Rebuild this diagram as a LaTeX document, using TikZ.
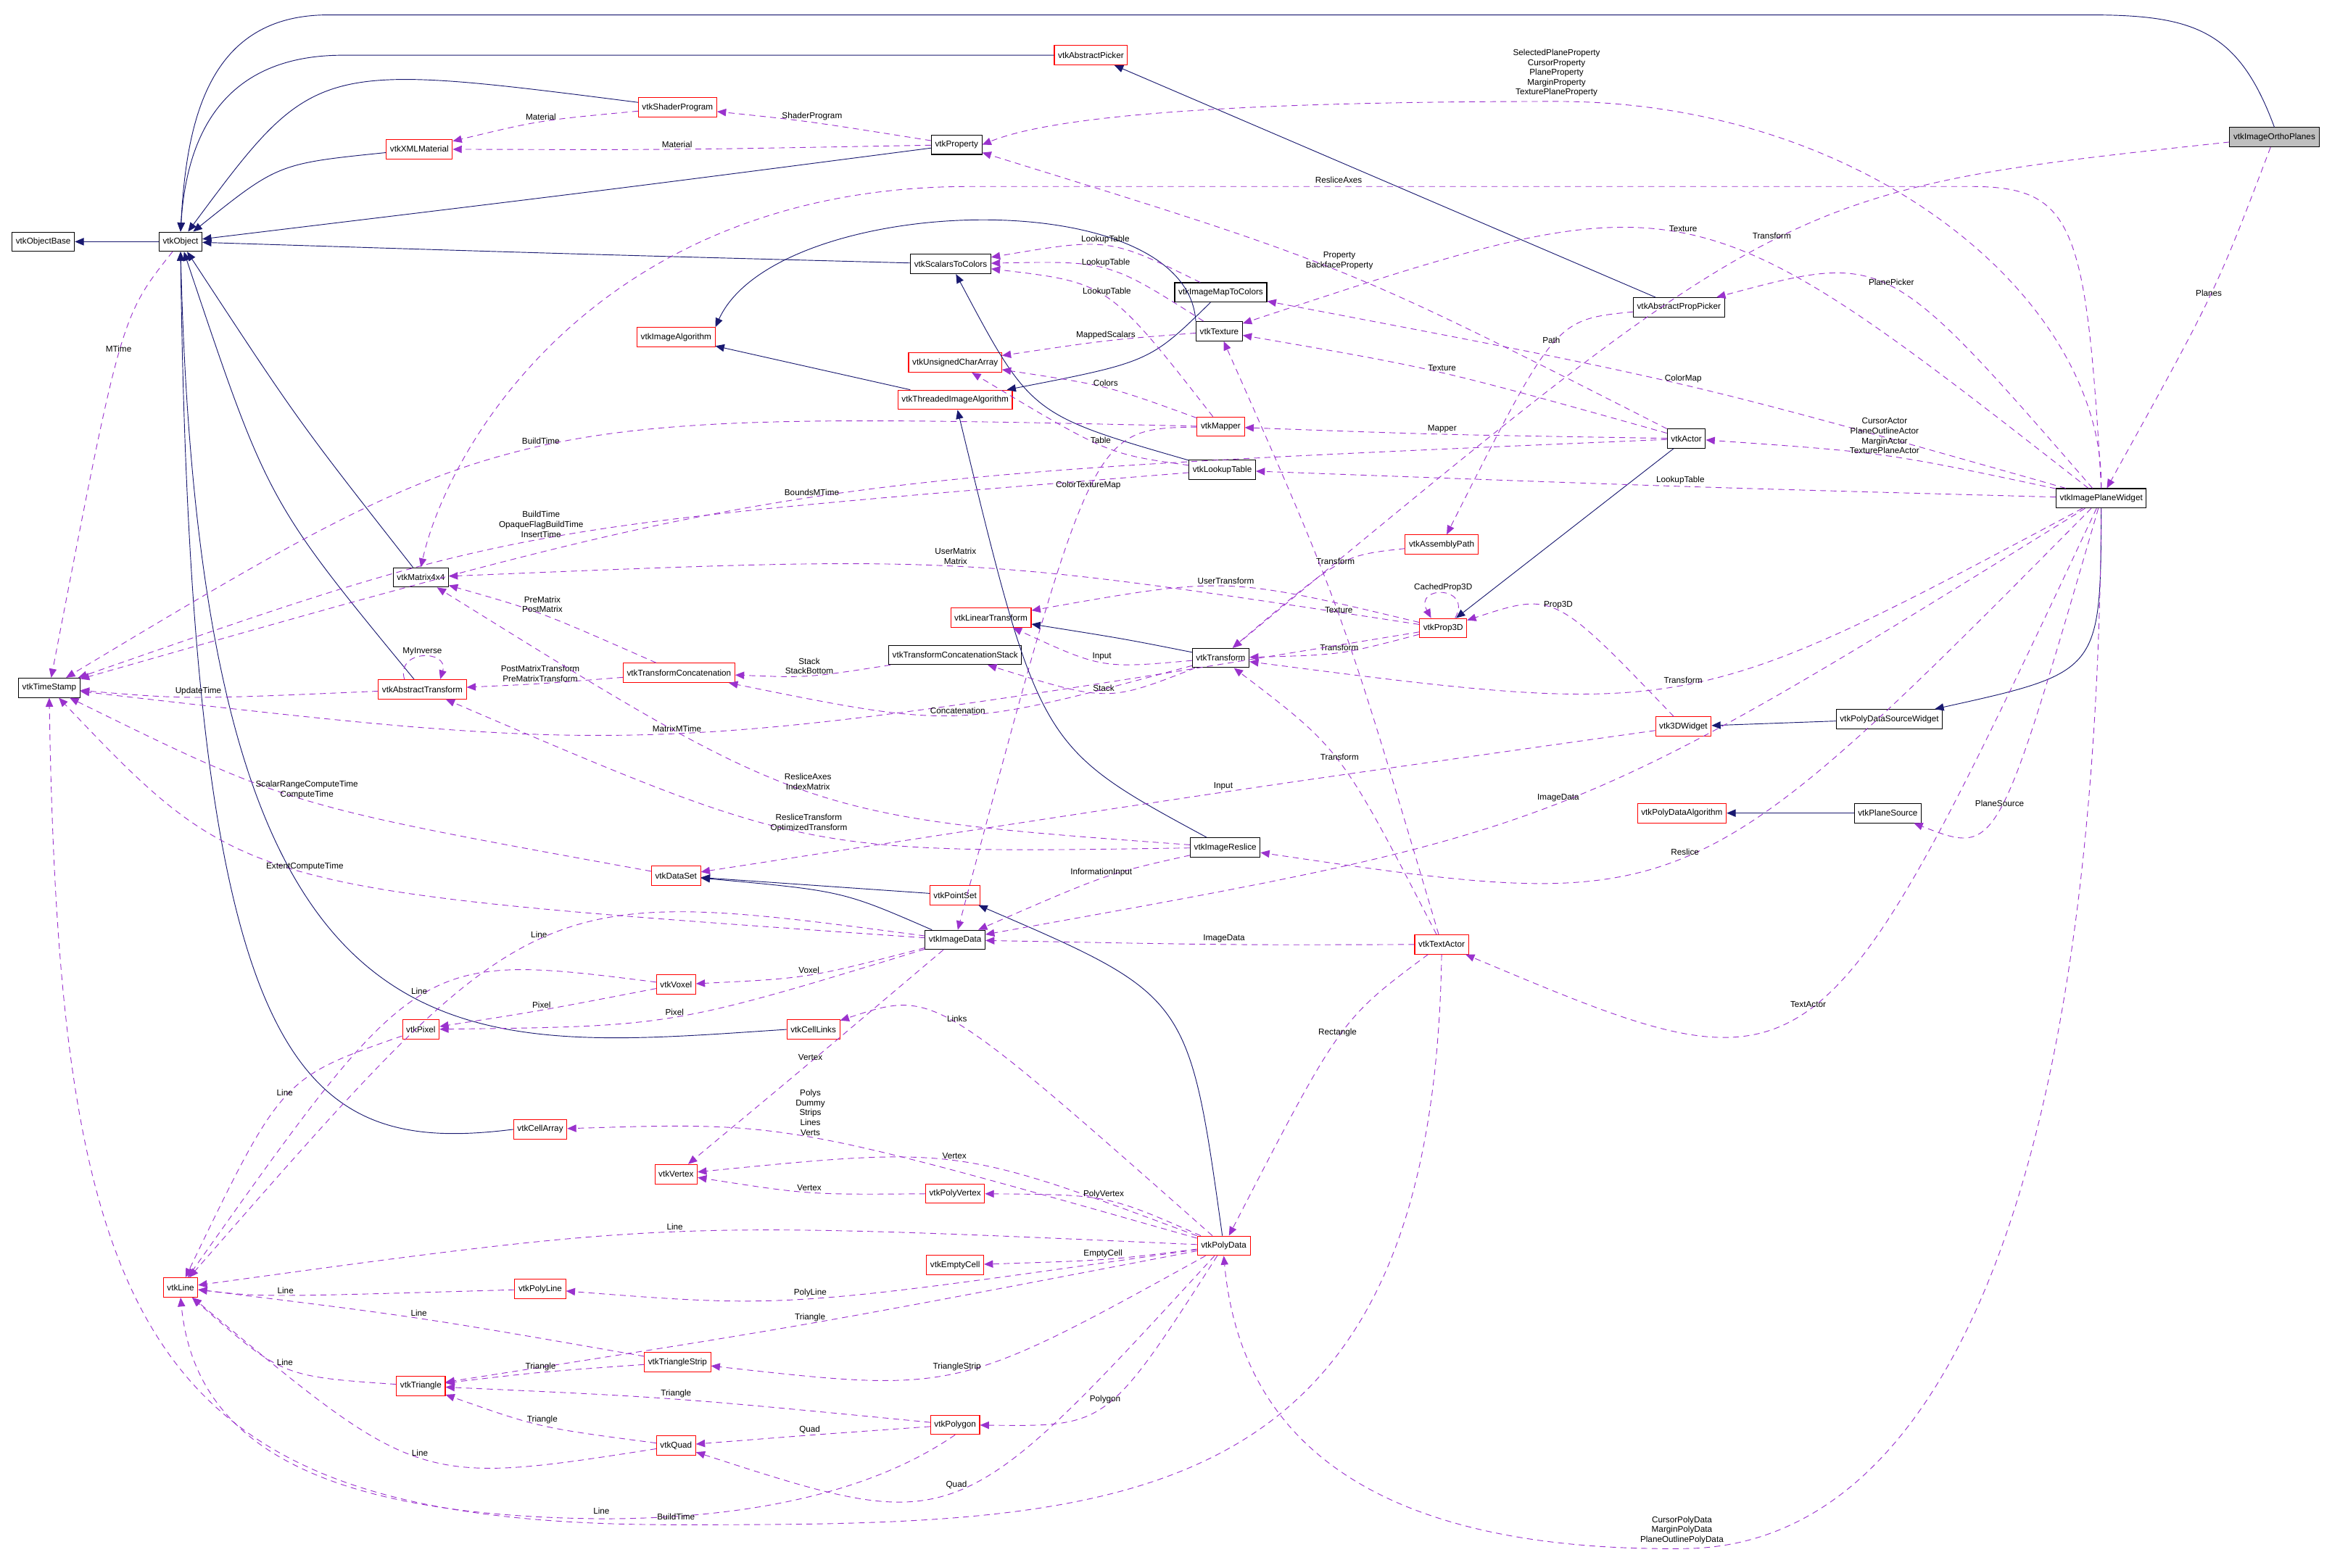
\documentclass[tikz,border=0pt]{standalone}
\usepackage{fontspec}
\setmainfont{Liberation Sans}
\usetikzlibrary{arrows.meta,calc}
\definecolor{inhcol}{HTML}{191970}
\definecolor{usecol}{HTML}{9A32CD}
\tikzset{
  cls/.style={draw=black, line width=0.5pt, inner xsep=2.5pt, minimum height=13pt,
    font=\fontsize{5.7}{6.6}\selectfont},
  rcls/.style={cls, draw=red},
  lbl/.style={font=\fontsize{5.7}{6.6}\selectfont, align=center, inner sep=1pt},
  inh/.style={draw=inhcol, line width=0.45pt, -{Triangle[length=6pt,width=5pt]}},
  use/.style={draw=usecol, line width=0.45pt, dash pattern=on 4pt off 3pt,
    -{Triangle[length=6pt,width=5pt]}},
}
% connectors that pass through a given middle point
\newcommand\mem[4]{\draw[use] (#1) .. controls ($1.3333*(#3)-0.16667*(#1)-0.16667*(#2)$) .. (#2)
  node[lbl, pos=0.5, above] {#4};}
\newcommand\isa[3]{\draw[inh] (#1) .. controls ($1.3333*(#3)-0.16667*(#1)-0.16667*(#2)$) .. (#2);}
\begin{document}
\begin{tikzpicture}[x=1pt, y=-1pt]
    \useasboundingbox (0,0) rectangle (1568,1051);

    % classes
    \node[cls, fill=black!25] (vtkImageOrthoPlanes) at (1524,92) {vtkImageOrthoPlanes};
    \node[cls] (vtkObjectBase) at (29,162) {vtkObjectBase};
    \node[cls] (vtkObject) at (121,162) {vtkObject};
    \node[rcls] (vtkAbstractPicker) at (731,37) {vtkAbstractPicker};
    \node[rcls] (vtkShaderProgram) at (454,72) {vtkShaderProgram};
    \node[rcls] (vtkXMLMaterial) at (281,100) {vtkXMLMaterial};
    \node[cls] (vtkProperty) at (641,97) {vtkProperty};
    \node[cls] (vtkScalarsToColors) at (637,177) {vtkScalarsToColors};
    \node[cls] (vtkImageMapToColors) at (818,196) {vtkImageMapToColors};
    \node[cls] (vtkTexture) at (817,222) {vtkTexture};
    \node[rcls] (vtkImageAlgorithm) at (453,226) {vtkImageAlgorithm};
    \node[rcls] (vtkUnsignedCharArray) at (640,243) {vtkUnsignedCharArray};
    \node[rcls] (vtkThreadedImageAlgorithm) at (640,268) {vtkThreadedImageAlgorithm};
    \node[rcls] (vtkMapper) at (818,286) {vtkMapper};
    \node[cls] (vtkLookupTable) at (819,315) {vtkLookupTable};
    \node[cls] (vtkAbstractPropPicker) at (1125,206) {vtkAbstractPropPicker};
    \node[cls] (vtkActor) at (1130,294) {vtkActor};
    \node[cls] (vtkImagePlaneWidget) at (1408,334) {vtkImagePlaneWidget};
    \node[rcls] (vtkAssemblyPath) at (966,365) {vtkAssemblyPath};
    \node[cls] (vtkMatrix4x4) at (282,387) {vtkMatrix4x4};
    \node[rcls] (vtkLinearTransform) at (664,414) {vtkLinearTransform};
    \node[rcls] (vtkProp3D) at (967,421) {vtkProp3D};
    \node[cls] (vtkTimeStamp) at (33,461) {vtkTimeStamp};
    \node[rcls] (vtkAbstractTransform) at (283,462) {vtkAbstractTransform};
    \node[rcls] (vtkTransformConcatenation) at (455,451) {vtkTransformConcatenation};
    \node[cls] (vtkTransformConcatenationStack) at (640,439) {vtkTransformConcatenationStack};
    \node[cls] (vtkTransform) at (818,441) {vtkTransform};
    \node[rcls] (vtk3DWidget) at (1128,487) {vtk3DWidget};
    \node[cls] (vtkPolyDataSourceWidget) at (1266,482) {vtkPolyDataSourceWidget};
    \node[rcls] (vtkPolyDataAlgorithm) at (1127,545) {vtkPolyDataAlgorithm};
    \node[cls] (vtkPlaneSource) at (1265,545) {vtkPlaneSource};
    \node[cls] (vtkImageReslice) at (821,568) {vtkImageReslice};
    \node[rcls] (vtkDataSet) at (453,587) {vtkDataSet};
    \node[rcls] (vtkPointSet) at (640,600) {vtkPointSet};
    \node[cls] (vtkImageData) at (640,630) {vtkImageData};
    \node[rcls] (vtkTextActor) at (966,633) {vtkTextActor};
    \node[rcls] (vtkVoxel) at (453,660) {vtkVoxel};
    \node[rcls] (vtkPixel) at (282,690) {vtkPixel};
    \node[rcls] (vtkCellLinks) at (545,690) {vtkCellLinks};
    \node[rcls] (vtkCellArray) at (362,757) {vtkCellArray};
    \node[rcls] (vtkVertex) at (453,787) {vtkVertex};
    \node[rcls] (vtkPolyVertex) at (640,800) {vtkPolyVertex};
    \node[rcls] (vtkPolyData) at (820,835) {vtkPolyData};
    \node[rcls] (vtkEmptyCell) at (640,848) {vtkEmptyCell};
    \node[rcls] (vtkLine) at (121,863) {vtkLine};
    \node[rcls] (vtkPolyLine) at (362,864) {vtkPolyLine};
    \node[rcls] (vtkTriangleStrip) at (454,913) {vtkTriangleStrip};
    \node[rcls] (vtkTriangle) at (282,929) {vtkTriangle};
    \node[rcls] (vtkPolygon) at (640,955) {vtkPolygon};
    \node[rcls] (vtkQuad) at (453,969) {vtkQuad};

    % inheritance
    \draw[inh] (vtkObject) -- (vtkObjectBase);
    \draw[inh] (vtkImageOrthoPlanes.north) .. controls (1500,20) and (1470,10) .. (1400,10)
        -- (220,10) .. controls (140,10) and (125,80) .. (vtkObject.north);
    \draw[inh] (vtkAbstractPicker.west) -- (230,37) .. controls (150,37) and (125,90) .. (vtkObject.north);
    \isa{vtkShaderProgram}{vtkObject}{230,60}
    \isa{vtkXMLMaterial}{vtkObject}{190,115}
    \isa{vtkProperty}{vtkObject}{400,128}
    \isa{vtkScalarsToColors}{vtkObject}{380,170}
    \isa{vtkMatrix4x4}{vtkObject}{200,280}
    \isa{vtkAbstractTransform}{vtkObject}{185,330}
    \draw[inh] (vtkCellLinks.west) .. controls (300,705) and (135,730) .. (vtkObject.south);
    \draw[inh] (vtkCellArray.west) .. controls (200,775) and (128,720) .. (vtkObject.south);
    \draw[inh] (vtkAbstractPropPicker) -- (vtkAbstractPicker);
    \isa{vtkImageMapToColors}{vtkThreadedImageAlgorithm}{760,240}
    \draw[inh] (vtkThreadedImageAlgorithm) -- (vtkImageAlgorithm);
    \draw[inh] (vtkTexture.north west) .. controls (795,120) and (520,130) .. (vtkImageAlgorithm.north east);
    \isa{vtkLookupTable}{vtkScalarsToColors}{700,270}
    \isa{vtkImageReslice}{vtkThreadedImageAlgorithm}{705,480}
    \draw[inh] (vtkActor) -- (vtkProp3D);
    \isa{vtkImagePlaneWidget}{vtkPolyDataSourceWidget}{1390,440}
    \draw[inh] (vtkPolyDataSourceWidget) -- (vtk3DWidget);
    \draw[inh] (vtkPlaneSource) -- (vtkPolyDataAlgorithm);
    \draw[inh] (vtkPointSet) -- (vtkDataSet);
    \isa{vtkImageData}{vtkDataSet}{560,600}
    \isa{vtkPolyData}{vtkPointSet}{780,680}
    \isa{vtkTransform}{vtkLinearTransform}{750,428}

    % members
    \mem{vtkShaderProgram}{vtkXMLMaterial}{363,82}{Material}
    \mem{vtkProperty}{vtkXMLMaterial}{453,100}{Material}
    \mem{vtkProperty}{vtkShaderProgram}{543,82}{ShaderProgram}
    \draw[use] (vtkImagePlaneWidget.north) .. controls (1410,200) and (1250,68) .. (1043,68)
        .. controls (800,68) and (700,80) .. (vtkProperty.east);
    \node[lbl, anchor=south] at (1043,66) {SelectedPlaneProperty\\CursorProperty\\PlaneProperty\\MarginProperty\\TexturePlaneProperty};
    \mem{vtkActor}{vtkProperty}{897,182}{Property\\BackfaceProperty}
    \draw[use] (vtkImagePlaneWidget.north) .. controls (1398,150) and (1390,125) .. (1320,125)
        -- (650,125) .. controls (400,125) and (300,300) .. (vtkMatrix4x4.north);
    \node[lbl, anchor=south] at (897,124) {ResliceAxes};
    \mem{vtkImagePlaneWidget}{vtkTexture}{1127,158}{Texture}
    \mem{vtkImageOrthoPlanes}{vtkTransform}{1190,162}{Transform}
    \mem{vtkImagePlaneWidget}{vtkAbstractPropPicker}{1265,194}{PlanePicker}
    \mem{vtkImagePlaneWidget}{vtkImageMapToColors}{1127,258}{ColorMap}
    \mem{vtkImagePlaneWidget}{vtkActor}{1265,306}{CursorActor\\PlaneOutlineActor\\MarginActor\\TexturePlaneActor}
    \mem{vtkImagePlaneWidget}{vtkLookupTable}{1127,326}{LookupTable}
    \mem{vtkImagePlaneWidget}{vtkTransform}{1127,458}{Transform}
    \mem{vtkImagePlaneWidget}{vtkImageData}{1043,538}{ImageData}
    \mem{vtkImagePlaneWidget}{vtkPlaneSource}{1338,540}{PlaneSource}
    \mem{vtkImagePlaneWidget}{vtkImageReslice}{1127,573}{Reslice}
    \mem{vtkImagePlaneWidget}{vtkTextActor}{1210,675}{TextActor}
    \draw[use] (vtkImagePlaneWidget.south) .. controls (1405,800) and (1300,1038) .. (1127,1038)
        .. controls (900,1040) and (830,950) .. (vtkPolyData.south);
    \node[lbl, anchor=south] at (1127,1036) {CursorPolyData\\MarginPolyData\\PlaneOutlinePolyData};
    \mem{vtkImageOrthoPlanes}{vtkImagePlaneWidget}{1480,200}{Planes}
    \mem{vtkImageMapToColors}{vtkScalarsToColors}{739,166}{LookupTable}
    \mem{vtkTexture}{vtkScalarsToColors}{739,181}{LookupTable}
    \mem{vtkMapper}{vtkScalarsToColors}{739,200}{LookupTable}
    \mem{vtkTexture}{vtkUnsignedCharArray}{739,229}{MappedScalars}
    \mem{vtkMapper}{vtkUnsignedCharArray}{739,260}{Colors}
    \mem{vtkLookupTable}{vtkUnsignedCharArray}{739,298}{Table}
    \mem{vtkActor}{vtkTexture}{966,250}{Texture}
    \mem{vtkActor}{vtkMapper}{966,291}{Mapper}
    \mem{vtkMapper}{vtkTimeStamp}{363,300}{BuildTime}
    \mem{vtkLookupTable}{vtkTimeStamp}{363,362}{BuildTime\\OpaqueFlagBuildTime\\InsertTime}
    \mem{vtkActor}{vtkTimeStamp}{543,334}{BoundsMTime}
    \mem{vtkMapper}{vtkImageData}{731,330}{ColorTextureMap}
    \mem{vtkAbstractPropPicker}{vtkAssemblyPath}{1043,232}{Path}
    \mem{vtkProp3D}{vtkMatrix4x4}{640,380}{UserMatrix\\Matrix}
    \mem{vtkProp3D}{vtkLinearTransform}{820,394}{UserTransform}
    \mem{vtkProp3D}{vtkTransform}{897,437}{Transform}
    \mem{vtkAssemblyPath}{vtkTransform}{897,380}{Transform}
    \draw[use] ([xshift=-8pt]vtkProp3D.north east) .. controls +(12,-22) and +(-12,-22) .. ([xshift=8pt]vtkProp3D.north west)
        node[lbl, pos=0.5, above] {CachedProp3D};
    \mem{vtkProp3D}{vtkTimeStamp}{453,491}{MatrixMTime}
    \mem{vtk3DWidget}{vtkProp3D}{1043,411}{Prop3D}
    \mem{vtk3DWidget}{vtkDataSet}{820,531}{Input}
    \mem{vtkTransform}{vtkLinearTransform}{739,443}{Input}
    \mem{vtkTransform}{vtkTransformConcatenationStack}{739,463}{Stack}
    \mem{vtkTransform}{vtkTransformConcatenation}{640,478}{Concatenation}
    \mem{vtkTransformConcatenationStack}{vtkTransformConcatenation}{543,452}{Stack\\StackBottom}
    \mem{vtkTransformConcatenation}{vtkMatrix4x4}{363,412}{PreMatrix\\PostMatrix}
    \mem{vtkTransformConcatenation}{vtkAbstractTransform}{363,458}{PostMatrixTransform\\PreMatrixTransform}
    \draw[use] ([xshift=-12pt]vtkAbstractTransform.north) .. controls +(-6,-20) and +(6,-20) .. ([xshift=12pt]vtkAbstractTransform.north)
        node[lbl, pos=0.5, above] {MyInverse};
    \mem{vtkAbstractTransform}{vtkTimeStamp}{134,467}{UpdateTime}
    \mem{vtkObject}{vtkTimeStamp}{80,237}{MTime}
    \mem{vtkImageReslice}{vtkMatrix4x4}{543,530}{ResliceAxes\\IndexMatrix}
    \mem{vtkImageReslice}{vtkAbstractTransform}{543,558}{ResliceTransform\\OptimizedTransform}
    \mem{vtkImageReslice}{vtkImageData}{739,589}{InformationInput}
    \mem{vtkDataSet}{vtkTimeStamp}{206,536}{ScalarRangeComputeTime\\ComputeTime}
    \mem{vtkImageData}{vtkTimeStamp}{206,584}{ExtentComputeTime}
    \mem{vtkImageData}{vtkLine}{363,631}{Line}
    \mem{vtkImageData}{vtkVoxel}{543,653}{Voxel}
    \mem{vtkImageData}{vtkPixel}{453,681}{Pixel}
    \mem{vtkImageData}{vtkVertex}{543,712}{Vertex}
    \mem{vtkVoxel}{vtkLine}{282,669}{Line}
    \mem{vtkVoxel}{vtkPixel}{363,677}{Pixel}
    \mem{vtkPixel}{vtkLine}{192,736}{Line}
    \mem{vtkPolyData}{vtkCellLinks}{640,688}{Links}
    \mem{vtkPolyData}{vtkCellArray}{543,763}{Polys\\Dummy\\Strips\\Lines\\Verts}
    \mem{vtkPolyData}{vtkVertex}{640,779}{Vertex}
    \mem{vtkPolyVertex}{vtkVertex}{543,799}{Vertex}
    \mem{vtkPolyData}{vtkPolyVertex}{739,805}{PolyVertex}
    \mem{vtkPolyData}{vtkLine}{453,826}{Line}
    \mem{vtkPolyData}{vtkEmptyCell}{739,844}{EmptyCell}
    \mem{vtkPolyData}{vtkPolyLine}{543,870}{PolyLine}
    \mem{vtkPolyLine}{vtkLine}{192,868}{Line}
    \mem{vtkPolyData}{vtkTriangle}{543,887}{Triangle}
    \mem{vtkPolyData}{vtkTriangleStrip}{640,919}{TriangleStrip}
    \mem{vtkTriangleStrip}{vtkLine}{282,884}{Line}
    \mem{vtkTriangleStrip}{vtkTriangle}{363,920}{Triangle}
    \mem{vtkTriangle}{vtkLine}{192,916}{Line}
    \mem{vtkPolygon}{vtkTriangle}{453,938}{Triangle}
    \mem{vtkQuad}{vtkTriangle}{363,955}{Triangle}
    \mem{vtkPolyData}{vtkPolygon}{739,941}{Polygon}
    \mem{vtkPolygon}{vtkQuad}{543,962}{Quad}
    \mem{vtkPolyData}{vtkQuad}{640,998}{Quad}
    \mem{vtkQuad}{vtkLine}{282,976}{Line}
    \draw[use] (vtkPolygon.south) .. controls (570,1010) and (470,1018) .. (403,1018)
        .. controls (200,1016) and (130,960) .. (vtkLine.south);
    \node[lbl, anchor=south] at (403,1016) {Line};
    \draw[use] (vtkTextActor.south) .. controls (960,1020) and (750,1022) .. (453,1022)
        .. controls (100,1022) and (40,900) .. (vtkTimeStamp.south);
    \node[lbl, anchor=south] at (453,1020) {BuildTime};
    \mem{vtkTextActor}{vtkTexture}{897,412}{Texture}
    \mem{vtkTextActor}{vtkTransform}{897,511}{Transform}
    \mem{vtkTextActor}{vtkImageData}{820,633}{ImageData}
    \mem{vtkTextActor}{vtkPolyData}{897,696}{Rectangle}
\end{tikzpicture}
\end{document}
